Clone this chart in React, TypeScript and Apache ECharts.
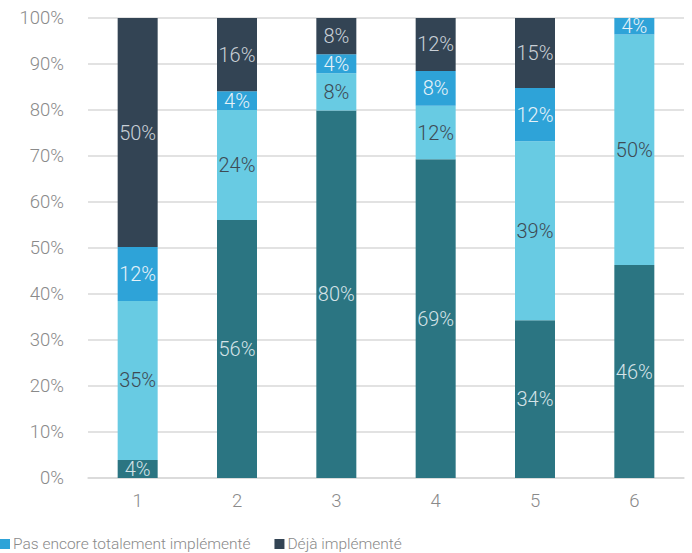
import React, { useEffect, useRef } from "react";
import * as echarts from "echarts";

const categories = ["1", "2", "3", "4", "5", "6"];
const seriesNames = ["Série 1", "Série 2", "Pas encore totalement implémenté", "Déjà implémenté"];
const tealValues = [3.9, 56.1, 79.9, 69.3, 34.3, 46.3];
const lightValues = [34.6, 23.9, 8.1, 11.6, 38.9, 50.1];
const mediumValues = [11.7, 4.1, 4.1, 7.6, 11.6, 3.6];
const darkValues = [49.8, 15.9, 7.9, 11.5, 15.2, 0];
const legendItems = ["Pas encore totalement implémenté", "Déjà implémenté"];

const colors = ["#2b7582", "#68cbe3", "#2ea3d8", "#334454"];
const labelColors = ["#d5e3e8", "#3e4a54", "#e6f2f8", "#c9d0d7"];
const FONT = "Roboto";

export default function App() {
  const ref = useRef<HTMLDivElement>(null);
  useEffect(() => {
    document.body.style.margin = "0";
    if (!ref.current) return;
    const chart = echarts.init(ref.current, null, { renderer: "svg" });
    const data = [tealValues, lightValues, mediumValues, darkValues];
    chart.setOption({
      animation: false,
      textStyle: { fontFamily: FONT, fontWeight: 300 },
      grid: { left: 88, right: 8, top: 18, bottom: 75 },
      legend: {
        data: legendItems,
        left: 0,
        top: 536,
        padding: 0,
        icon: "rect",
        itemWidth: 10,
        itemHeight: 10,
        itemGap: 24,
        textStyle: { fontSize: 15.5, color: "#8a8a8a", fontFamily: FONT, fontWeight: 300, padding: [0, 0, 0, -2] },
      },
      xAxis: {
        type: "category",
        data: categories,
        axisLine: { lineStyle: { color: "#d9d9d9", width: 1.5 } },
        axisTick: { show: false },
        axisLabel: { fontSize: 18.5, color: "#8a8a8a", margin: 13, fontFamily: FONT, fontWeight: 300 },
      },
      yAxis: {
        type: "value",
        min: 0,
        max: 100,
        interval: 10,
        axisLine: { show: false },
        axisTick: { show: false },
        splitLine: { lineStyle: { color: "#d9d9d9", width: 1.5 } },
        axisLabel: {
          fontSize: 18.5,
          color: "#8a8a8a",
          margin: 24,
          fontFamily: FONT,
          fontWeight: 300,
          formatter: (v: number) => v + "%",
        },
      },
      series: data.map((vals, i) => ({
        name: seriesNames[i],
        type: "bar",
        stack: "total",
        barWidth: 40,
        data: vals,
        itemStyle: { color: colors[i] },
        label: {
          show: true,
          position: "inside",
          fontSize: 20,
          color: labelColors[i],
          fontFamily: FONT,
          fontWeight: 300,
          formatter: (p: any) => (p.value > 0 ? Math.round(p.value) + "%" : ""),
        },
      })),
    });
    return () => chart.dispose();
  }, []);
  return <div ref={ref} style={{ width: 692, height: 553 }} />;
}
